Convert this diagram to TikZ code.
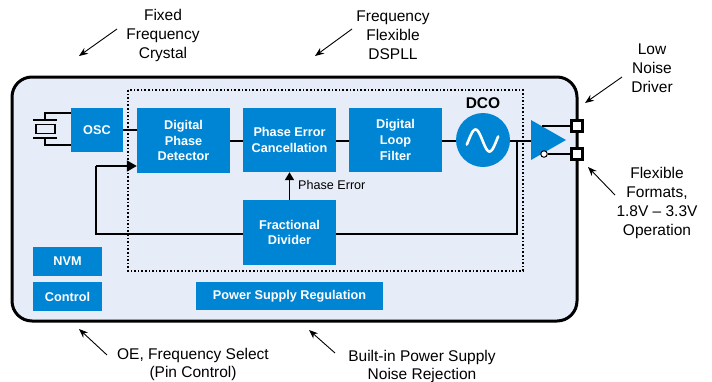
\documentclass[tikz,border=0pt]{standalone}
\usepackage{fontspec}
\setmainfont{Liberation Sans}
\usetikzlibrary{arrows.meta}
\definecolor{blk}{RGB}{0,133,212}
\definecolor{bgfill}{RGB}{231,237,248}
\tikzset{
  blkbox/.style={fill=blk, text=white, font=\fontsize{12.7}{15.7}\selectfont\bfseries, align=center, inner sep=0pt},
  lbl/.style={font=\fontsize{15.5}{19}\selectfont, align=center, inner sep=0pt},
  wire/.style={line width=1.8pt},
  callout/.style={line width=0.9pt, -{Stealth[length=9pt,width=7pt]}},
  pad/.style={draw, line width=2.2pt, fill=white, minimum size=11pt, inner sep=0pt},
}
\begin{document}
\begin{tikzpicture}[x=1pt,y=-1pt]
\useasboundingbox (0,0) rectangle (712,381);
% outer package
\draw[line width=3pt, fill=bgfill, rounded corners=20pt] (12,77) rectangle (577,321);
% dotted DSPLL region
\draw[line width=1.6pt, dotted] (128,90) rectangle (523,271);

% blocks
\node[blkbox, minimum width=52pt, minimum height=44pt] (osc) at (97,130) {OSC};
\node[blkbox, minimum width=93pt, minimum height=65pt] (dpd) at (183.5,140.5) {Digital\\Phase\\Detector};
\node[blkbox, minimum width=93pt, minimum height=64pt] (pec) at (289.5,140) {Phase Error\\Cancellation};
\node[blkbox, minimum width=93pt, minimum height=64pt] (dlf) at (395.5,140) {Digital\\Loop\\Filter};
\node[blkbox, minimum width=93pt, minimum height=65pt] (fd) at (289.5,232.5) {Fractional\\Divider};
\node[blkbox, minimum width=69pt, minimum height=29pt] (nvm) at (67.5,261.5) {NVM};
\node[blkbox, minimum width=69pt, minimum height=29pt] (ctl) at (67.5,296.5) {Control};
\node[blkbox, minimum width=187pt, minimum height=28pt] (psr) at (289.5,296) {Power Supply Regulation};

% DCO
\node[circle, fill=blk, minimum size=54pt, inner sep=0pt] (dco) at (483,140) {};
\draw[white, line width=2.6pt, line cap=round]
  plot[domain=-1.12:1.12, smooth, samples=40] ({482.5+14*\x},{140.5+11*sin(\x*180)});
\node[font=\fontsize{15.5}{18}\selectfont\bfseries, inner sep=0pt] (dcolbl) at (483,103) {DCO};

% crystal
\coordinate (xt) at (45,113);
\coordinate (xb) at (45,145);
\draw[line width=1.2pt] (osc.west |- xt) -- (xt) -- (45,120);
\draw[line width=1.2pt] (osc.west |- xb) -- (xb) -- (45,138);
\draw[line width=2.2pt] (33,120) -- (57,120);
\draw[line width=2.2pt] (33,138) -- (57,138);
\draw[line width=1.6pt, fill=bgfill] (36,124.5) rectangle (55,133.5);

% signal path
\draw[wire] (osc.east) -- (osc.east -| dpd.west);
\draw[wire] (dpd.east |- 0,141) -- (pec.west |- 0,141);
\draw[wire] (pec.east |- 0,141) -- (dlf.west |- 0,141);
\draw[wire] (dlf.east |- 0,141) -- (dco.west |- 0,141);
\coordinate (ampL) at (531,141);
\coordinate (fb) at (517,141);
\draw[wire] (dco.east |- 0,141) -- (ampL);
\draw[wire] (fb) |- (fd.east |- 0,234);
\coordinate (fbl) at (96,234);
\draw[wire] (fd.west |- 0,234) -- (fbl) -- (96,166);
\draw[wire, -{Triangle[length=10pt,width=11pt]}] (96,166) -- (dpd.west |- 0,166);
\draw[wire, -{Triangle[length=8pt,width=9pt]}] (fd.north) -- (pec.south);
\node[font=\fontsize{12.6}{15}\selectfont, anchor=west, inner sep=0pt] (pelbl) at (298,185) {Phase Error};

% driver
\fill[blk] (531,120) -- (566,140) -- (531,160) -- cycle;
\node[pad] (p1) at (577,126) {};
\node[pad] (p2) at (577,154) {};
\draw[line width=1.2pt] (541.5,126) -- (p1.west);
\node[circle, draw, line width=1pt, fill=white, minimum size=6.5pt, inner sep=0pt] (bub) at (544,154) {};
\draw[line width=1.2pt] (bub.east) -- (p2.west);

% callout labels
\node[lbl] (l1) at (163,35) {Fixed\\Frequency\\Crystal};
\coordinate (a1) at (79,56);
\draw[callout] (117,29) -- (a1);
\node[lbl] (l2) at (393,35) {Frequency\\Flexible\\DSPLL};
\coordinate (a2) at (315,56);
\draw[callout] (352,29) -- (a2);
\node[lbl] (l3) at (652,68) {Low\\Noise\\Driver};
\coordinate (a3) at (585,103);
\draw[callout] (622,77) -- (a3);
\node[lbl] (l4) at (657,203) {Flexible\\Formats,\\1.8V – 3.3V\\Operation};
\coordinate (a4) at (588,167);
\draw[callout] (615,195) -- (a4);
\node[lbl, font=\fontsize{15.5}{18}\selectfont] (l5) at (193,364) {OE, Frequency Select\\(Pin Control)};
\coordinate (a5) at (79,329);
\draw[callout] (107,355) -- (a5);
\node[lbl, font=\fontsize{15.5}{18}\selectfont] (l6) at (422,366) {Built-in Power Supply\\Noise Rejection};
\coordinate (a6) at (309,330);
\draw[callout] (335,353) -- (a6);
\end{tikzpicture}
\end{document}
